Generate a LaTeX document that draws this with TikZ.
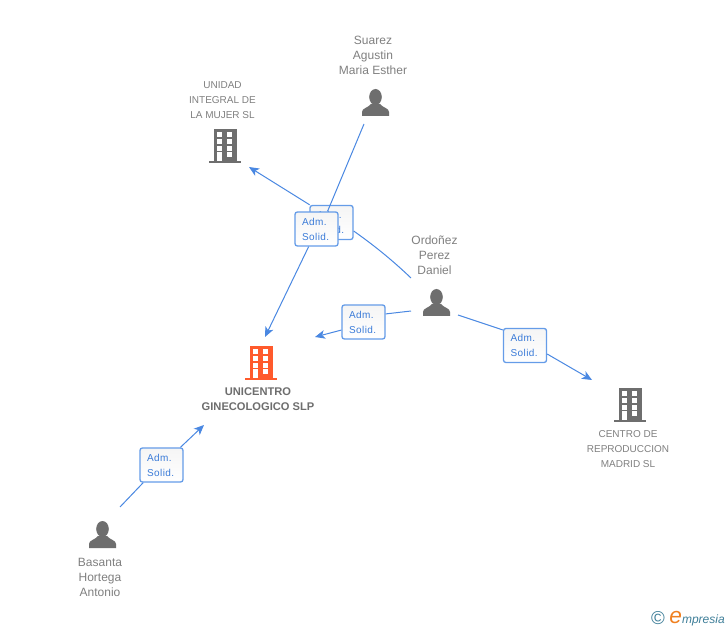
\documentclass[tikz,border=0pt]{standalone}
\usepackage{fontspec}
\usepackage{xcolor}
\setmainfont{Liberation Sans}
\newfontfamily\boxfont[LetterSpace=4]{Liberation Sans}
\usetikzlibrary{arrows.meta, positioning}
\definecolor{Link_Blue}{HTML}{4A88E2}
\definecolor{Box_Blue}{HTML}{659CE8}
\definecolor{Text_Blue}{HTML}{3A7BD8}
\definecolor{Icon_Gray}{HTML}{6E6E6E}
\definecolor{Label_Gray}{HTML}{808080}
\definecolor{Main_Orange}{HTML}{FF5A2C}
\definecolor{Logo_Teal}{HTML}{3F7F99}
\definecolor{Logo_Orange}{HTML}{F08020}
\tikzset{
    rolebox/.style={draw=Box_Blue, line width=1pt, rounded corners=1.8pt, top color=black!4, bottom color=white,
        minimum width=32.25pt, minimum height=25.5pt, inner sep=0pt, text width=21.5pt, align=left, text=Text_Blue,
        font=\boxfont\fontsize{7.5}{11.25}\selectfont},
    personlabel/.style={align=center, text=Label_Gray, inner sep=0pt, font=\fontsize{9}{11.25}\selectfont},
    firmlabel/.style={align=center, text=Label_Gray, inner sep=0pt, font=\fontsize{7.5}{11.25}\selectfont},
    mainlabel/.style={align=center, text=Icon_Gray, inner sep=0pt, font=\bfseries\fontsize{8.35}{11.25}\selectfont},
    link/.style={draw=Link_Blue, line width=0.75pt},
    linkarrow/.style={link, -{Stealth[length=7.5pt, width=6.5pt, inset=2pt]}},
    personicon/.pic={
        \fill[Icon_Gray] (13.5,8) ellipse (6.3 and 8);
        \fill[Icon_Gray] (0,27) -- (0,23) .. controls (0,19) and (6,19) .. (9,15) -- (18,15)
            .. controls (21,19) and (27,19) .. (27,23) -- (27,27) -- cycle;
    },
    pics/buildingicon/.style={code={
        \fill[#1] (5,0) rectangle (28,32);
        \fill[#1] (0,32) rectangle (32,34);
        \foreach \wy in {3.3, 10.5, 17.2} {
            \fill[white] (8.3,\wy) rectangle +(5,4.4);
            \fill[white] (18,\wy) rectangle +(5,4.4);
        }
        \fill[white] (18,23.3) rectangle +(5,4.4);
        \fill[white] (8.3,23.3) rectangle (13,32);
    }},
}
\begin{document}
\begin{tikzpicture}[x=0.75pt, y=-0.75pt]
    \useasboundingbox (0,0) rectangle (728,630);
    \fill[white] (0,0) rectangle (728,630);

    % Icons
    \pic at (362,89) {personicon};
    \pic at (423,289) {personicon};
    \pic at (89,521) {personicon};
    \pic at (209,129) {buildingicon=Icon_Gray};
    \pic at (245,346) {buildingicon=Main_Orange};
    \pic at (614,388) {buildingicon=Icon_Gray};

    % Names
    \node[personlabel] (suarez) at (373,55) {Suarez\\Agustin\\Maria Esther};
    \node[personlabel] (ordonez) at (434.5,255) {Ordoñez\\Perez\\Daniel};
    \node[personlabel] (basanta) at (100,577) {Basanta\\Hortega\\Antonio};
    \node[firmlabel] (unidad) at (222.5,100) {UNIDAD\\INTEGRAL DE\\LA MUJER SL};
    \node[firmlabel] (centro) at (628,449) {CENTRO DE\\REPRODUCCION\\MADRID SL};
    \node[mainlabel] (unicentro) at (258,399.5) {UNICENTRO\\GINECOLOGICO SLP};

    % Role boxes
    \node[rolebox] (boxUnidad) at (331.5,222.5) {Adm.\\Solid.};
    \node[rolebox] (boxSuarez) at (316.5,229) {Adm.\\Solid.};
    \node[rolebox] (boxLeft) at (363.5,322) {Adm.\\Solid.};
    \node[rolebox] (boxRight) at (525,345.5) {Adm.\\Solid.};
    \node[rolebox] (boxBasanta) at (161.5,465) {Adm.\\Solid.};

    % Free ends
    \coordinate (fromSuarez) at (364,124);
    \coordinate (fromOrdonezA) at (411,278);
    \coordinate (fromOrdonezB) at (411,311);
    \coordinate (fromOrdonezC) at (458,315);
    \coordinate (fromBasanta) at (120,507);
    \coordinate (toUnidad) at (249,167);
    \coordinate (toMainA) at (265,337);
    \coordinate (toMainB) at (315,337);
    \coordinate (toCentro) at (592,380);
    \coordinate (toMainC) at (204,425);

    % Connectors
    \draw[link] (fromSuarez) -- (boxSuarez.58);
    \draw[linkarrow] (boxSuarez.246) -- (toMainA);
    \draw[link] (fromOrdonezA) .. controls (390,258) and (372,244) .. (boxUnidad.-21);
    \draw[linkarrow] (boxUnidad.141) -- (toUnidad);
    \draw[link] (fromOrdonezB) -- (boxLeft.20);
    \draw[linkarrow] (boxLeft.200) -- (toMainB);
    \draw[link] (fromOrdonezC) -- (boxRight.145);
    \draw[linkarrow] (boxRight.-21) -- (toCentro);
    \draw[link] (fromBasanta) -- (boxBasanta.224);
    \draw[linkarrow] (boxBasanta.43) -- (toMainC);

    % Logo
    \node[text=Logo_Teal, inner sep=0pt, font=\fontsize{14}{14}\selectfont] (copysign) at (658,618.5) {©};
    \node[right=3pt of copysign, inner sep=0pt, text=Logo_Teal, font=\itshape\fontsize{9}{9}\selectfont] (logo)
        {\textcolor{Logo_Orange}{\fontsize{17}{17}\selectfont e}mpresia};
\end{tikzpicture}
\end{document}
